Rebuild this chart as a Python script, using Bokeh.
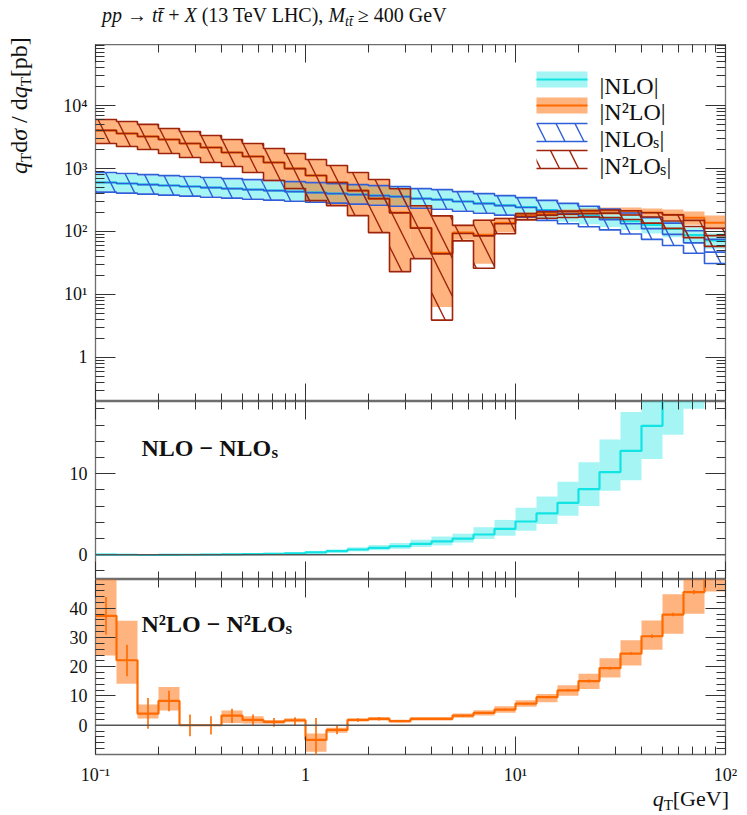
import math
from bokeh.plotting import figure
from bokeh.models import (Range1d, LogAxis, LinearAxis, FixedTicker, CustomJSTickFormatter,
                          Label, Span, Div)
from bokeh.layouts import column, row
from bokeh.embed import file_html
from bokeh.resources import INLINE

# ---------------- data ----------------
qt_edges = [0.1, 0.1259, 0.1585, 0.1995, 0.2512, 0.3162, 0.3981, 0.5012, 0.631, 0.7943,
            1.0, 1.259, 1.585, 1.995, 2.512, 3.162, 3.981, 5.012, 6.31, 7.943,
            10.0, 12.59, 15.85, 19.95, 25.12, 31.62, 39.81, 50.12, 63.1, 79.43, 100.0]

nlo_c = [600, 578, 557, 537, 518, 499, 481, 463, 447, 431, 415, 400, 387, 373, 359,
         334, 323, 301, 280, 261, 244, 220, 198, 180, 164, 146, 127, 110, 88, 72]
nlo_hi = [840, 809, 780, 752, 725, 699, 673, 648, 626, 603, 581, 560, 542, 522, 503,
          468, 452, 421, 392, 365, 342, 308, 277, 250, 226, 199, 171, 147, 116, 94]
nlo_lo = [435, 419, 404, 389, 375, 362, 349, 336, 324, 312, 301, 290, 280, 270, 260,
          242, 234, 218, 203, 189, 177, 159, 143, 130, 118, 106, 93, 81, 65, 53]

nlos_c = [600, 578, 557, 537, 518, 499, 481, 463, 447, 431, 415, 400, 386, 372, 358,
          333, 321, 299, 277, 258, 240, 215, 192, 172, 154, 133, 111, 90, 66, 47]
nlos_hi = [865, 834, 803, 774, 747, 720, 693, 668, 645, 621, 598, 577, 556, 536, 516,
           480, 463, 431, 400, 372, 346, 312, 280, 252, 227, 197, 166, 136, 103, 75]
nlos_lo = [423, 407, 392, 378, 365, 351, 339, 326, 315, 303, 292, 282, 272, 262, 252,
           234, 226, 210, 195, 182, 169, 150, 133, 119, 106, 91, 75, 60, 45, 31]

n2lo_c = [4050, 3620, 3245, 2905, 2510, 2170, 1805, 1560, 1250, 1000, 775, 600, 447, 333, 200,
          115, 46, 96, 89, 138, 179, 192, 200, 207, 215, 207, 200, 185, 166, 138]
n2lo_hi = [6050, 5620, 5040, 4350, 3890, 3365, 2905, 2510, 2090, 1740, 1395, 1120, 865, 670, 481,
           258, 179, 128, 155, 166, 200, 215, 223, 231, 240, 240, 231, 223, 207, 179]
n2lo_lo = [2510, 2250, 2015, 1740, 1500, 1250, 1080, 865, 645, 481, 310, 258, 179, 96, 23.8,
           38.2, 6.3, 74, 30.7, 96, 160, 172, 179, 185, 185, 179, 166, 149, 128, 111]

n2los_c = [4050, 3620, 3245, 2905, 2510, 2170, 1805, 1560, 1250, 1000, 775, 600, 447, 333, 198,
           113, 44, 93, 85, 133, 172, 182, 188, 192, 196, 183, 170, 147, 120, 86]
n2los_hi = [6050, 5620, 5040, 4350, 3890, 3365, 2905, 2510, 2090, 1740, 1395, 1120, 865, 670, 478,
            256, 177, 125, 151, 161, 192, 205, 211, 215, 220, 214, 199, 184, 150, 112]
n2los_lo = [2510, 2250, 2015, 1740, 1500, 1250, 1080, 865, 645, 481, 310, 258, 179, 96, 23,
            37, 3.9, 71, 26, 92, 153, 162, 167, 170, 166, 155, 136, 112, 80, 58]

# NLO - NLOs
d1_c = [0.02, 0.0, -0.03, -0.02, 0.0, 0.02, 0.05, 0.08, 0.12, 0.18, 0.3, 0.45, 0.65, 0.85, 1.05,
        1.35, 1.65, 2.0, 2.5, 3.2, 4.1, 5.1, 6.4, 8.1, 10.2, 12.8, 15.9, 20.0, 22.0, 25.0]
d1_lo = [-0.05, -0.06, -0.09, -0.08, -0.06, -0.05, -0.03, -0.01, 0.02, 0.06, 0.15, 0.26, 0.42, 0.56, 0.72,
         0.95, 1.15, 1.5, 1.95, 2.35, 2.95, 3.8, 4.8, 6.0, 7.9, 9.2, 11.8, 14.8, 18.0, 19.5]
d1_hi = [0.08, 0.06, 0.03, 0.05, 0.07, 0.1, 0.14, 0.18, 0.24, 0.32, 0.47, 0.66, 0.92, 1.2, 1.45,
         1.85, 2.25, 2.6, 3.4, 4.3, 5.8, 7.2, 9.0, 11.4, 14.2, 17.6, 20.5, 25.5, 29.0, 33.0]

# N2LO - N2LOs
d2_c = [37.4, 22.2, 4.0, 8.3, 0.0, 0.0, 3.3, 1.8, 1.15, 1.7, -5.0, -1.6, 1.8, 2.2, 1.4,
        2.2, 2.2, 3.3, 4.2, 5.35, 7.4, 9.6, 11.9, 15.1, 19.5, 24.5, 30.4, 37.8, 45.5, 52.0]
d2_lo = [23.8, 14.2, 2.3, 5.0, -0.3, -0.3, 0.8, 0.6, 0.5, 1.0, -9.1, -2.6, 1.3, 1.6, 0.9,
         1.6, 1.6, 2.6, 3.3, 4.3, 6.3, 7.85, 10.1, 12.4, 16.3, 20.4, 25.8, 31.3, 38.1, 45.7]
d2_hi = [55.0, 35.7, 7.1, 13.1, 0.3, 0.3, 5.0, 3.1, 1.8, 2.4, -2.8, -0.9, 2.3, 2.8, 1.9,
         2.8, 2.8, 4.0, 5.1, 6.5, 8.5, 10.7, 13.65, 17.6, 22.9, 29.0, 35.8, 44.8, 52.0, 58.0]
d2_err_lo = [31.0, 16.7, -1.2, 4.8, -3.75, -3.2, 0.8, -0.1, -0.55, 0.0, -10.0, -3.1, 1.2, 1.6, 1.1,
             1.9, 1.9, 3.0, 3.9, 5.0, 7.0, 9.2, 11.5, 14.6, 19.0, 24.0, 29.8, 37.2, 44.8, 51.2]
d2_err_hi = [43.8, 27.5, 9.3, 11.8, 3.65, 3.1, 5.6, 3.65, 2.5, 2.7, 2.5, -0.1, 2.4, 2.8, 1.7,
             2.5, 2.5, 3.6, 4.5, 5.7, 7.8, 10.0, 12.3, 15.6, 20.0, 25.0, 31.0, 38.4, 46.2, 52.8]

x_major = [0.1, 1, 10, 100]
x_minor = [0.2, 0.3, 0.4, 0.5, 0.6, 0.7, 0.8, 0.9, 2, 3, 4, 5, 6, 7, 8, 9,
           20, 30, 40, 50, 60, 70, 80, 90]
y1_major = [1, 10, 100, 1000, 10000]
y1_minor = [0.2, 0.3, 0.4, 0.5, 0.6, 0.7, 0.8, 0.9, 2, 3, 4, 5, 6, 7, 8, 9,
            20, 30, 40, 50, 60, 70, 80, 90, 200, 300, 400, 500, 600, 700, 800, 900,
            2000, 3000, 4000, 5000, 6000, 7000, 8000, 9000,
            20000, 30000, 40000, 50000, 60000, 70000, 80000, 90000]
y2_major = [0, 10]
y2_minor = [-2, 2, 4, 6, 8, 12, 14, 16, 18]
y3_major = [0, 10, 20, 30, 40]
y3_minor = [-8, -6, -4, -2, 2, 4, 6, 8, 12, 14, 16, 18, 22, 24, 26, 28, 32, 34, 36, 38, 42, 44, 46, 48]

# ---------------- style ----------------
SERIF = "Liberation Serif"
CYAN = "#12e4e4"
ORANGE = "#ff6a00"
BLUE = "#2f5fd8"
DARKRED = "#9e230b"
FRAME = "#6e6e6e"
TICK = "#333333"
HS = 38

MARGIN = 8
LEFTDIV = 40
W = 731 - LEFTDIV
FL, FR = 93 - MARGIN - LEFTDIV, 16
Y1 = (0.198, 9.4e4)
Y2 = (-3.05, 18.9)
Y3 = (-10.0, 49.8)

lefts = qt_edges[:-1]
rights = qt_edges[1:]
centers = [math.sqrt(a * b) for a, b in zip(lefts, rights)]


def stepy(v):
    return list(v) + [v[-1]]


# page-pixel -> data helpers (frames: x 93..723; p1 y 42..399; p2 399..577; p3 577..755)
def x_at(px):
    return 10 ** (-1 + (px - 93) / 210.0)


def y1_at(py):
    a, b = math.log10(Y1[0]), math.log10(Y1[1])
    return 10 ** (b - (py - 42) / 357.0 * (b - a))


def ylin_at(py, top, rng):
    return rng[1] - (py - top) / 178.0 * (rng[1] - rng[0])


sup_fmt = CustomJSTickFormatter(code="""
const e = Math.round(Math.log10(tick));
const s = {"-1": "\u207b\u00b9", "1": "\u00b9", "2": "\u00b2", "3": "\u00b3", "4": "\u2074"};
if (e == 0) return "1";
return "10" + s[String(e)];
""")


def style_axis(ax, maj, mnr, labels):
    ax.axis_line_color = None
    ax.major_tick_line_color = TICK
    ax.minor_tick_line_color = TICK
    ax.major_tick_in = maj
    ax.major_tick_out = 0
    ax.minor_tick_in = mnr
    ax.minor_tick_out = 0
    if labels:
        ax.major_label_text_font = SERIF
        ax.major_label_text_font_size = "18px"
        ax.major_label_text_color = "#111111"
        ax.major_label_standoff = 8
    else:
        ax.formatter = CustomJSTickFormatter(code="return '';")
        ax.major_label_text_font_size = "0px"
        ax.major_label_standoff = 0


def make_fig(height, yr, ylog, top, bottom):
    p = figure(width=W, height=height, x_axis_type="log",
               y_axis_type="log" if ylog else "linear",
               x_range=xr, y_range=Range1d(*yr),
               x_axis_location=None, y_axis_location=None,
               output_backend="svg", toolbar_location=None,
               min_border_left=FL, min_border_right=FR,
               min_border_top=top, min_border_bottom=bottom)
    p.outline_line_color = FRAME
    p.outline_line_width = 1.3
    p.background_fill_color = "white"
    p.border_fill_color = "white"
    for g in p.grid:
        g.visible = False
    return p


def add_axes(p, ylog, ymaj, ymin, xlabels):
    for loc in ("below", "above"):
        ax = LogAxis(ticker=FixedTicker(ticks=x_major, minor_ticks=x_minor))
        lab = xlabels and loc == "below"
        style_axis(ax, 18, 8, lab)
        if lab:
            ax.formatter = sup_fmt
            ax.major_label_standoff = 10
        p.add_layout(ax, loc)
    for loc in ("left", "right"):
        cls = LogAxis if ylog else LinearAxis
        ax = cls(ticker=FixedTicker(ticks=ymaj, minor_ticks=ymin))
        style_axis(ax, 20, 9, loc == "left")
        if loc == "left" and ylog:
            ax.formatter = sup_fmt
        p.add_layout(ax, loc)


def lab(p, x, y, text, size, style="normal"):
    p.add_layout(Label(x=x, y=y, text=text,
                       text_font=SERIF, text_font_size=f"{size}px", text_font_style=style,
                       text_color="#111111", text_baseline="alphabetic", text_align="left"))


xr = Range1d(0.1, 100)

# ---------------- top panel ----------------
p1 = make_fig(357, Y1, True, 0, 0)
add_axes(p1, True, y1_major, y1_minor, False)

p1.quad(left=lefts, right=rights, bottom=nlo_lo, top=nlo_hi,
        fill_color=CYAN, fill_alpha=0.38, line_color=None)
p1.quad(left=lefts, right=rights, bottom=n2lo_lo, top=n2lo_hi,
        fill_color=ORANGE, fill_alpha=0.5, line_color=None)
p1.step(x=qt_edges, y=stepy(nlo_c), mode="after", line_color=CYAN, line_width=2)
p1.step(x=qt_edges, y=stepy(n2lo_c), mode="after", line_color=ORANGE, line_width=2)

p1.quad(left=lefts, right=rights, bottom=nlos_lo, top=nlos_hi,
        fill_color=None, line_color=None, hatch_pattern="\\", hatch_color=BLUE,
        hatch_scale=HS, hatch_weight=1.4)
for arr in (nlos_hi, nlos_lo, nlos_c):
    p1.step(x=qt_edges, y=stepy(arr), mode="after", line_color=BLUE, line_width=1.6)

p1.quad(left=lefts, right=rights, bottom=n2los_lo, top=n2los_hi,
        fill_color=None, line_color=None, hatch_pattern="\\", hatch_color=DARKRED,
        hatch_scale=HS, hatch_weight=1.4)
for arr in (n2los_hi, n2los_lo, n2los_c):
    p1.step(x=qt_edges, y=stepy(arr), mode="after", line_color=DARKRED, line_width=1.6)

# legend (drawn by hand)
sx0, sx1 = x_at(534), x_at(585)
p1.quad(left=[sx0], right=[sx1], bottom=[y1_at(85)], top=[y1_at(69)],
        fill_color=CYAN, fill_alpha=0.38, line_color=None)
p1.segment(x0=[sx0], x1=[sx1], y0=[y1_at(77)], y1=[y1_at(77)], line_color=CYAN, line_width=2)
p1.quad(left=[sx0], right=[sx1], bottom=[y1_at(111)], top=[y1_at(95)],
        fill_color=ORANGE, fill_alpha=0.5, line_color=None)
p1.segment(x0=[sx0], x1=[sx1], y0=[y1_at(103)], y1=[y1_at(103)], line_color=ORANGE, line_width=2)
for (ya, yb, col) in ((121, 139, BLUE), (148, 166, DARKRED)):
    p1.quad(left=[sx0], right=[sx1], bottom=[y1_at(yb)], top=[y1_at(ya)],
            fill_color=None, line_color=None, hatch_pattern="\\", hatch_color=col,
            hatch_scale=HS, hatch_weight=1.4)
    p1.segment(x0=[sx0, sx0], x1=[sx1, sx1], y0=[y1_at(ya), y1_at(yb)],
               y1=[y1_at(ya), y1_at(yb)], line_color=col, line_width=1.6)

lab(p1, x_at(597), y1_at(83), "|NLO|", 24)
lab(p1, x_at(597), y1_at(109), "|N\u00b2LO|", 24)
lab(p1, x_at(597), y1_at(136), "|NLO", 24)
lab(p1, x_at(650.5), y1_at(140), "s", 16)
lab(p1, x_at(657), y1_at(136), "|", 24)
lab(p1, x_at(597), y1_at(163), "|N\u00b2LO", 24)
lab(p1, x_at(657.5), y1_at(167), "s", 16)
lab(p1, x_at(664), y1_at(163), "|", 24)

# ---------------- middle panel ----------------
p2 = make_fig(178, Y2, False, 0, 0)
add_axes(p2, False, y2_major, y2_minor, False)
p2.add_layout(Span(location=0, dimension="width", line_color="#555555", line_width=1.3))
p2.quad(left=lefts, right=rights, bottom=d1_lo, top=d1_hi,
        fill_color=CYAN, fill_alpha=0.38, line_color=None)
p2.step(x=qt_edges, y=stepy(d1_c), mode="after", line_color=CYAN, line_width=2.2)
lab(p2, x_at(139), ylin_at(445, 399, Y2), "NLO \u2212 NLO", 24, "bold")
lab(p2, x_at(269), ylin_at(450, 399, Y2), "s", 17, "bold")

# ---------------- bottom panel ----------------
p3 = make_fig(208, Y3, False, 0, 30)
add_axes(p3, False, y3_major, y3_minor, True)
p3.add_layout(Span(location=0, dimension="width", line_color="#555555", line_width=1.3))
p3.quad(left=lefts, right=rights, bottom=d2_lo, top=d2_hi,
        fill_color=ORANGE, fill_alpha=0.5, line_color=None)
p3.step(x=qt_edges, y=stepy(d2_c), mode="after", line_color=ORANGE, line_width=2.2)
p3.segment(x0=centers, x1=centers, y0=d2_err_lo, y1=d2_err_hi, line_color=ORANGE, line_width=1.6)
lab(p3, x_at(139), ylin_at(622, 577, Y3), "N\u00b2LO \u2212 N\u00b2LO", 24, "bold")
lab(p3, x_at(283), ylin_at(627, 577, Y3), "s", 17, "bold")

# ---------------- rich-text labels outside the frames ----------------
FONT = "font-family:'Liberation Serif',serif;color:#111;white-space:nowrap;"
SUB = "font-size:15px;vertical-align:-0.25em;"
title_div = Div(width=W, height=34, text=(
    f"<div style=\"{FONT}font-size:20px;line-height:20px;padding-left:{95 - MARGIN - LEFTDIV}px;padding-top:0px;\">"
    "<i>pp</i> \u2192 <i>tt\u0304</i> + <i>X</i> (13 TeV LHC), "
    "<i>M</i><span style=\"font-size:14px;vertical-align:-0.3em;\"><i>tt\u0304</i></span> \u2265 400 GeV</div>"))

ylab_div = Div(width=LEFTDIV, height=799, text=(
    f"<div style=\"{FONT}font-size:24px;line-height:26px;width:200px;height:26px;"
    "margin-top:169px;margin-left:1px;transform:rotate(-90deg);transform-origin:0 0;\">"
    f"<i>q</i><span style=\"{SUB}\">T</span>d<i>\u03c3</i> / d<i>q</i><span style=\"{SUB}\">T</span>[pb]</div>"))

xlab_div = Div(width=W, height=22, text=(
    f"<div style=\"{FONT}font-size:22px;line-height:24px;text-align:right;width:{W}px;"
    f"box-sizing:border-box;padding-right:{FR + 1}px;position:relative;top:-5px;\">"
    f"<i>q</i><span style=\"{SUB}\">T</span>[GeV]</div>"))

layout = row(ylab_div, column(title_div, p1, p2, p3, xlab_div, spacing=0), spacing=0)
open("out.html", "w").write(file_html(layout, INLINE))
